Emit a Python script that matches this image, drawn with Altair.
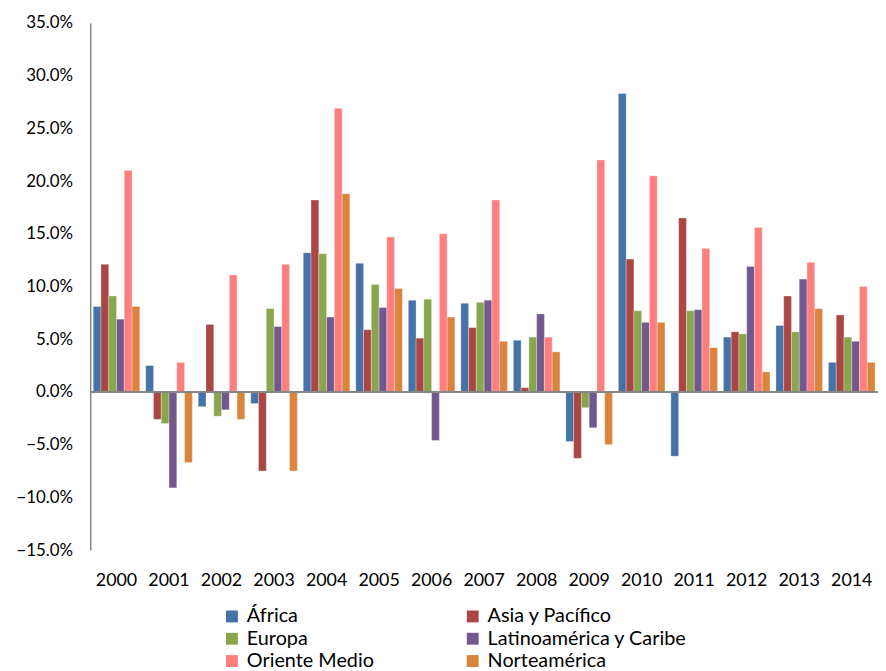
import altair as alt
import pandas as pd

years = ["2000", "2001", "2002", "2003", "2004", "2005", "2006", "2007",
         "2008", "2009", "2010", "2011", "2012", "2013", "2014"]
series = ["África", "Asia y Pacífico", "Europa", "Latinoamérica y Caribe",
          "Oriente Medio", "Norteamérica"]
colors = ["#4572A7", "#AA4643", "#89A54E", "#71588F", "#FF7F7F", "#DB843D"]

africa = [8.1, 2.5, -1.4, -1.1, 13.2, 12.2, 8.7, 8.4, 4.9, -4.7, 28.3, -6.1, 5.2, 6.3, 2.8]
asia = [12.1, -2.6, 6.4, -7.5, 18.2, 5.9, 5.1, 6.1, 0.4, -6.3, 12.6, 16.5, 5.7, 9.1, 7.3]
europa = [9.1, -3.0, -2.3, 7.9, 13.1, 10.2, 8.8, 8.5, 5.2, -1.5, 7.7, 7.7, 5.5, 5.7, 5.2]
latino = [6.9, -9.1, -1.7, 6.2, 7.1, 8.0, -4.6, 8.7, 7.4, -3.4, 6.6, 7.8, 11.9, 10.7, 4.8]
oriente = [21.0, 2.8, 11.1, 12.1, 26.9, 14.7, 15.0, 18.2, 5.2, 22.0, 20.5, 13.6, 15.6, 12.3, 10.0]
norte = [8.1, -6.7, -2.6, -7.5, 18.8, 9.8, 7.1, 4.8, 3.8, -5.0, 6.6, 4.2, 1.9, 7.9, 2.8]

y_ticks = [-0.15, -0.10, -0.05, 0.0, 0.05, 0.10, 0.15, 0.20, 0.25, 0.30, 0.35]

rows = []
for name, vals in zip(series, [africa, asia, europa, latino, oriente, norte]):
    for yr, v in zip(years, vals):
        rows.append({"Año": yr, "Región": name, "Valor": v / 100.0})
df = pd.DataFrame(rows)

FONT = "Lato"

bars = alt.Chart(df).mark_bar(stroke="white", strokeWidth=0.5, strokeOpacity=0.6).encode(
    x=alt.X("Año:N", sort=years,
            scale=alt.Scale(paddingInner=0.113, paddingOuter=0.0566),
            axis=alt.Axis(title=None, labelAngle=0, domain=False, ticks=False,
                          labelPadding=22, labelFontSize=18, labelColor="#000000",
                          labelFont=FONT)),
    xOffset=alt.XOffset("Región:N", sort=series,
                        scale=alt.Scale(paddingInner=0, paddingOuter=0)),
    y=alt.Y("Valor:Q",
            scale=alt.Scale(domain=[-0.15, 0.35], nice=False, zero=False),
            axis=alt.Axis(title=None, format=".1%", values=y_ticks, grid=False,
                          ticks=False, domain=True, domainColor="#868686",
                          domainWidth=1.5, labelPadding=18, labelFontSize=17,
                          labelColor="#000000", labelFont=FONT)),
    color=alt.Color("Región:N", sort=series,
                    scale=alt.Scale(domain=series, range=colors),
                    legend=alt.Legend(title=None, orient="none", legendX=133,
                                      legendY=589, columns=2, direction="horizontal",
                                      columnPadding=89,
                                      symbolType="square", symbolSize=144,
                                      symbolStrokeWidth=0, labelFontSize=20,
                                      labelFont=FONT, labelColor="#000000",
                                      labelOffset=5, rowPadding=2.5,
                                      labelLimit=300)),
)

zero = alt.Chart(pd.DataFrame({"v": [0.0]})).mark_rule(
    color="#868686", strokeWidth=2).encode(y="v:Q")

chart = alt.layer(bars, zero).properties(
    width=795, height=532,
    autosize=alt.AutoSizeParams(type="none"),
    padding={"left": 83, "top": 12, "right": 0, "bottom": 119},
).configure_view(stroke=None)

chart.save("out.html", embed_options={"renderer": "svg", "actions": False})
